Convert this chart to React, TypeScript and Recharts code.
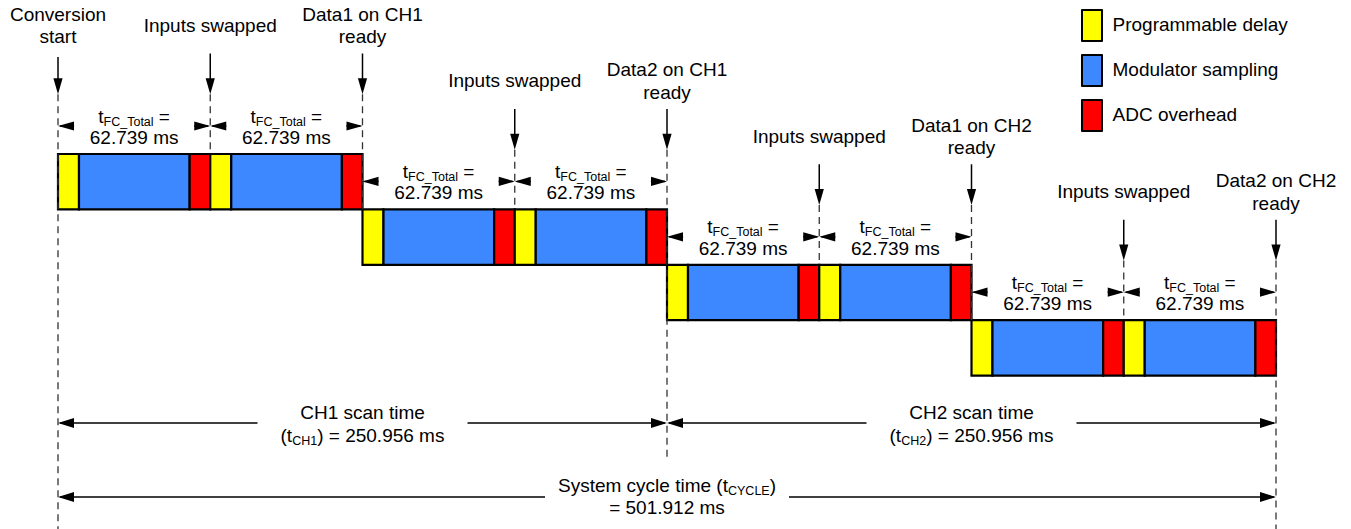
import React from 'react';
import { ComposedChart, XAxis, YAxis, ReferenceArea, ReferenceLine, Legend } from 'recharts';

const FONT = '"Liberation Sans", Arial, Helvetica, sans-serif';

// Conversion phases (legend + fill colours)
const PHASE_NAMES = ['Programmable delay', 'Modulator sampling', 'ADC overhead'];
const PHASE_COLORS = ['#FFFF00', '#3D87FF', '#FF0000'];

// Phase durations of each of the 8 conversions (ms): CH1 x4, then CH2 x4
const DELAY_MS = [8.65, 8.65, 8.65, 8.65, 8.65, 8.65, 8.65, 8.65];
const SAMPLING_MS = [45.6, 45.6, 45.6, 45.6, 45.6, 45.6, 45.6, 45.6];
const OVERHEAD_MS = [8.489, 8.489, 8.489, 8.489, 8.489, 8.489, 8.489, 8.489];

// Events at each conversion boundary
const EVENT_LABELS: string[][] = [
  ['Conversion', 'start'],
  ['Inputs swapped'],
  ['Data1 on CH1', 'ready'],
  ['Inputs swapped'],
  ['Data2 on CH1', 'ready'],
  ['Inputs swapped'],
  ['Data1 on CH2', 'ready'],
  ['Inputs swapped'],
  ['Data2 on CH2', 'ready'],
];

// Channel scan times and full system cycle (ms)
const SCAN_CHANNELS = ['CH1', 'CH2'];
const SCAN_MS = [250.956, 250.956];
const CYCLE_MS = 501.912;

// ---- layout ----
const W = 1351;
const H = 529;
const ROW_TOP = 154;
const ROW_H = 55.4;
const CONV_PER_ROW = 2;
const TEXT = 19;
const SUB = 12.5;
const INK = '#000';

const convTotals = DELAY_MS.map((d, i) => d + SAMPLING_MS[i] + OVERHEAD_MS[i]);
const bounds: number[] = [0];
convTotals.forEach((t) => bounds.push(bounds[bounds.length - 1] + t));

const segments: { x1: number; x2: number; row: number; phase: number }[] = [];
convTotals.forEach((_, k) => {
  const parts = [DELAY_MS[k], SAMPLING_MS[k], OVERHEAD_MS[k]];
  let s = bounds[k];
  parts.forEach((d, p) => {
    segments.push({ x1: s, x2: s + d, row: Math.floor(k / CONV_PER_ROW), phase: p });
    s += d;
  });
});

const eventLevel = (k: number) => (k === 0 ? 0 : Math.floor((k - 1) / CONV_PER_ROW));
const scanEnds = SCAN_MS.map((_, i) => SCAN_MS.slice(0, i + 1).reduce((a, b) => a + b, 0));

const eventDashEnd = (k: number) => {
  const lvl = eventLevel(k);
  const t = bounds[k];
  if (k === 0 || Math.abs(t - CYCLE_MS) < 1e-6) return H;
  if (Math.abs(t - scanEnds[0]) < 1e-6) return 457;
  return k % 2 === 1 ? ROW_TOP + lvl * ROW_H : ROW_TOP + (lvl + 1) * ROW_H;
};

const eventShape = (k: number) => (p: any) => {
  const x = p.x1;
  const lvl = eventLevel(k);
  const off = lvl * ROW_H;
  const tip = 94.3 + off;
  const lines = EVENT_LABELS[k];
  const baselines = lines.length === 2 ? [20.7, 43.3] : [31.7];
  return (
    <g>
      {lines.map((s, i) => (
        <text key={i} x={x} y={baselines[i] + off} textAnchor="middle" fontSize={TEXT} fontFamily={FONT} fill={INK}>
          {s}
        </text>
      ))}
      <line x1={x} y1={p.y1} x2={x} y2={tip - 12} stroke={INK} strokeWidth={1.5} />
      <polygon points={`${x - 4.6},${tip - 16} ${x + 4.6},${tip - 16} ${x},${tip}`} fill={INK} />
      <line x1={x} y1={tip} x2={x} y2={p.y2} stroke="#333" strokeWidth={1.3} strokeDasharray="7 5" />
    </g>
  );
};

type Dim = { gap: number; half: number; lines: React.ReactNode[]; baselines: number[] };

const dimShape = (d: Dim) => (p: any) => {
  const xa = Math.min(p.x1, p.x2);
  const xb = Math.max(p.x1, p.x2);
  const y = p.y1;
  const cx = (xa + xb) / 2;
  const L = 16;
  return (
    <g>
      <line x1={xa + 2} y1={y} x2={cx - d.gap} y2={y} stroke={INK} strokeWidth={1.5} />
      <line x1={cx + d.gap} y1={y} x2={xb - 2} y2={y} stroke={INK} strokeWidth={1.5} />
      <polygon points={`${xa},${y} ${xa + L},${y - d.half} ${xa + L},${y + d.half}`} fill={INK} />
      <polygon points={`${xb},${y} ${xb - L},${y - d.half} ${xb - L},${y + d.half}`} fill={INK} />
      {d.lines.map((ln, i) => (
        <text key={i} x={cx} y={d.baselines[i]} textAnchor="middle" fontSize={TEXT} fontFamily={FONT} fill={INK}>
          {ln}
        </text>
      ))}
    </g>
  );
};

const fcLines = (total: number): React.ReactNode[] => [
  <>
    {'t'}
    <tspan fontSize={SUB} dy={3}>FC_Total</tspan>
    <tspan dy={-3}> =</tspan>
  </>,
  `${total.toFixed(3)} ms`,
];

const renderLegend = () => (
  <div style={{ display: 'flex', flexDirection: 'column', gap: 12.5, fontFamily: FONT }}>
    {PHASE_NAMES.map((n, i) => (
      <div key={n} style={{ display: 'flex', alignItems: 'center', height: 32.5 }}>
        <div
          style={{
            width: 22,
            height: 32.5,
            boxSizing: 'border-box',
            background: PHASE_COLORS[i],
            border: '2.5px solid #000',
            borderRadius: 1,
          }}
        />
        <span style={{ marginLeft: 9.5, fontSize: TEXT, color: INK, whiteSpace: 'nowrap' }}>{n}</span>
      </div>
    ))}
  </div>
);

export default function App() {
  return (
    <div style={{ position: 'absolute', left: 0, top: 0, width: W, height: H, background: '#fff' }}>
      <ComposedChart width={W} height={H} margin={{ top: 0, right: 75, bottom: 0, left: 58 }}>
        <XAxis type="number" dataKey="t" domain={[0, CYCLE_MS]} allowDataOverflow hide />
        <YAxis type="number" domain={[0, H]} reversed allowDataOverflow hide />
        <Legend
          content={renderLegend}
          layout="vertical"
          align="center"
          verticalAlign="middle"
          wrapperStyle={{ position: 'absolute', left: 1081, top: 9, width: 260 }}
        />

        {segments.map((s, i) => (
          <ReferenceArea
            key={`seg-${i}`}
            x1={s.x1}
            x2={s.x2}
            y1={ROW_TOP + s.row * ROW_H}
            y2={ROW_TOP + (s.row + 1) * ROW_H}
            fill={PHASE_COLORS[s.phase]}
            fillOpacity={1}
            stroke={INK}
            strokeWidth={2.2}
            ifOverflow="visible"
          />
        ))}

        {bounds.map((t, k) => (
          <ReferenceLine
            key={`ev-${k}`}
            segment={[
              { x: t, y: (k === 0 ? 57 : 53.5) + eventLevel(k) * ROW_H },
              { x: t, y: eventDashEnd(k) },
            ]}
            ifOverflow="visible"
            shape={eventShape(k)}
          />
        ))}

        {convTotals.map((total, k) => {
          const row = Math.floor(k / CONV_PER_ROW);
          const off = row * ROW_H;
          return (
            <ReferenceLine
              key={`fc-${k}`}
              segment={[
                { x: bounds[k], y: 126 + off },
                { x: bounds[k + 1], y: 126 + off },
              ]}
              ifOverflow="visible"
              shape={dimShape({ gap: 60, half: 4.6, lines: fcLines(total), baselines: [122.5 + off, 144 + off] })}
            />
          );
        })}

        {SCAN_CHANNELS.map((ch, i) => (
          <ReferenceLine
            key={`scan-${ch}`}
            segment={[
              { x: i === 0 ? 0 : scanEnds[i - 1], y: 423 },
              { x: scanEnds[i], y: 423 },
            ]}
            ifOverflow="visible"
            shape={dimShape({
              gap: 105,
              half: 5,
              lines: [
                `${ch} scan time`,
                <>
                  {'(t'}
                  <tspan fontSize={SUB} dy={3}>{ch}</tspan>
                  <tspan dy={-3}>{`) = ${SCAN_MS[i].toFixed(3)} ms`}</tspan>
                </>,
              ],
              baselines: [418.5, 441.5],
            })}
          />
        ))}

        <ReferenceLine
          segment={[
            { x: 0, y: 497 },
            { x: CYCLE_MS, y: 497 },
          ]}
          ifOverflow="visible"
          shape={dimShape({
            gap: 122,
            half: 5,
            lines: [
              <>
                {'System cycle time (t'}
                <tspan fontSize={SUB} dy={3}>CYCLE</tspan>
                <tspan dy={-3}>)</tspan>
              </>,
              `= ${CYCLE_MS.toFixed(3)} ms`,
            ],
            baselines: [491.7, 514],
          })}
        />
      </ComposedChart>
    </div>
  );
}
